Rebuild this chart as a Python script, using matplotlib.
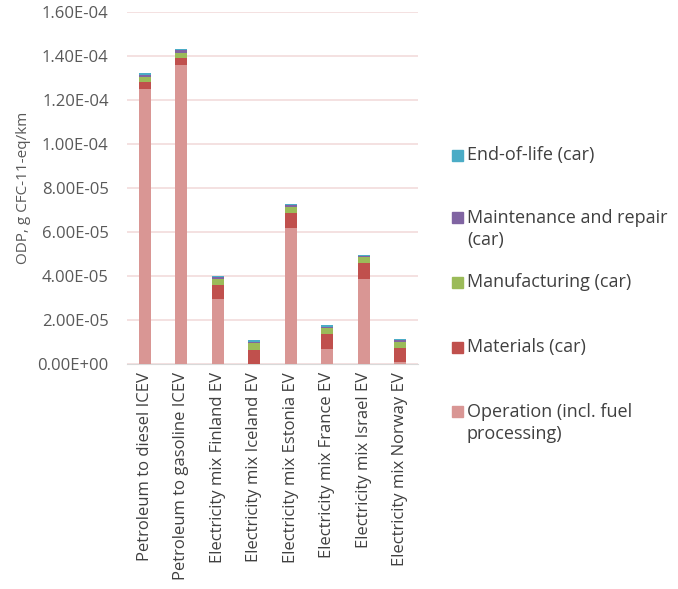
import numpy as np
import matplotlib.pyplot as plt
from matplotlib.patches import Rectangle

plt.rcParams['font.family'] = ['Open Sans', 'DejaVu Sans']

categories = ['Petroleum to diesel ICEV', 'Petroleum to gasoline ICEV',
              'Electricity mix Finland EV', 'Electricity mix Iceland EV',
              'Electricity mix Estonia EV', 'Electricity mix France EV',
              'Electricity mix Israel EV', 'Electricity mix Norway EV']

# stacked from the bottom up
operation = [1.25e-4, 1.356e-4, 2.95e-5, 0.1e-6, 6.2e-5, 6.8e-6, 3.88e-5, 0.9e-6]
materials = [3.3e-6, 3.5e-6, 6.4e-6, 6.4e-6, 6.7e-6, 7.0e-6, 7.0e-6, 6.4e-6]
manufacturing = [2.3e-6, 2.3e-6, 2.9e-6, 2.9e-6, 2.7e-6, 2.6e-6, 2.6e-6, 2.7e-6]
maintenance = [0.9e-6, 1.05e-6, 0.8e-6, 0.8e-6, 0.9e-6, 0.6e-6, 0.6e-6, 0.8e-6]
end_of_life = [0.6e-6, 0.45e-6, 0.6e-6, 0.5e-6, 0.45e-6, 0.6e-6, 0.6e-6, 0.6e-6]

series = [('Operation (incl. fuel\nprocessing)', operation, '#D99694'),
          ('Materials (car)', materials, '#C0504D'),
          ('Manufacturing (car)', manufacturing, '#9BBB59'),
          ('Maintenance and repair\n(car)', maintenance, '#8064A2'),
          ('End-of-life (car)', end_of_life, '#4BACC6')]

yticks = np.arange(0, 1.61e-4, 2e-5)
ytick_labels = ['0.00E+00', '2.00E-05', '4.00E-05', '6.00E-05', '8.00E-05',
                '1.00E-04', '1.20E-04', '1.40E-04', '1.60E-04']

fig = plt.figure(figsize=(6.78, 5.89), dpi=100)
ax = fig.add_axes([0.187, 0.382, 0.43, 0.598])

x = np.arange(len(categories))
bottom = np.zeros(len(categories))
for name, vals, col in series:
    ax.bar(x, vals, width=0.33, bottom=bottom, color=col, zorder=3)
    bottom += np.array(vals)

ax.set_xlim(-0.5, len(categories) - 0.5)
ax.set_ylim(0, 1.6e-4)
ax.set_yticks(yticks)
ax.set_yticklabels(ytick_labels, color='#595959', fontsize=12)
ax.set_xticks(x)
ax.set_xticklabels(categories, rotation=90, color='#404040', fontsize=12)
ax.tick_params(axis='y', length=0, pad=13)
ax.tick_params(axis='x', length=0, pad=6)
ax.grid(axis='y', color='#F2DCDB', linewidth=1.2, zorder=0)
for s in ['top', 'right', 'left']:
    ax.spines[s].set_visible(False)
ax.spines['bottom'].set_color('#D9D9D9')
ax.set_ylabel('ODP, g CFC-11-eq/km', color='#595959', fontsize=11, labelpad=5)

# legend on the right, top entry first
leg_y = [155, 229, 282, 347, 423]
for (name, vals, col), py in zip(series[::-1], leg_y):
    first_line = py if '\n' not in name else py - 11.5
    fig.add_artist(Rectangle((452 / 678, 1 - (first_line + 5.5) / 589), 11 / 678, 11 / 589,
                             transform=fig.transFigure, color=col))
    fig.text(467 / 678, 1 - py / 589, name, fontsize=13, color='#404040',
             va='center', ha='left', linespacing=1.3)

fig.savefig('out.png')
